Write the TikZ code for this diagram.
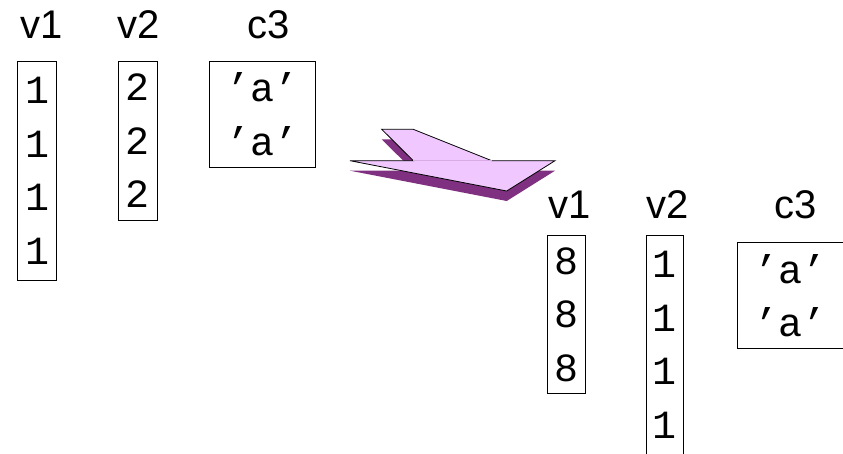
\documentclass[tikz,border=0pt]{standalone}
\usepackage{fontspec}
\setmainfont{Liberation Sans}
\newfontfamily\hdrfont{Liberation Sans}
\newfontfamily\cellfont{Liberation Mono}
\definecolor{arrowlight}{RGB}{240,200,255}
\definecolor{arrowdark}{RGB}{128,48,128}
\definecolor{arrowseam}{RGB}{215,170,230}
\begin{document}
\begin{tikzpicture}[x=1pt,y=-1pt]
\tikzset{
  hdr/.style={inner sep=0pt, anchor=base, font=\hdrfont\fontsize{40}{40}\selectfont},
  colbox/.style={draw=black, line width=0.8pt, inner sep=0pt, anchor=north west,
    align=center, font=\cellfont\fontsize{40}{53.5}\selectfont},
}
\useasboundingbox (0,0) rectangle (843,453);
% left table
\node[hdr] (lh1) at (42,38.3) {v1};
\node[hdr] (lh2) at (138.2,38.3) {v2};
\node[hdr] (lh3) at (269,38.3) {c3};
\node[colbox, minimum width=38.7, minimum height=219] (lc1) at (17.3,61) {1\\1\\1\\1};
\node[colbox, minimum width=38.4, minimum height=159] (lc2) at (118.3,61) {2\\2\\2};
\node[colbox, minimum width=106, minimum height=105.7] (lc3) at (209.3,61) {’a’\\’a’};
% arrow
\fill[arrowdark, yshift=-10pt] (381.7,129.3) -- (413.3,129.3) -- (491.7,160.7) -- (555,160.7)
  -- (506.7,191) -- (350,160.7) -- (413.3,160.7) -- cycle;
\filldraw[fill=arrowlight, draw=black, line width=0.8pt, line join=miter]
  (381.7,129.3) -- (413.3,129.3) -- (491.7,160.7) -- (555,160.7)
  -- (506.7,191) -- (350,160.7) -- (413.3,160.7) -- cycle;
\draw[arrowseam, line width=0.6pt] (413.3,160.7) -- (491.7,160.7);
% right table
\node[hdr] (rh1) at (569.3,218.3) {v1};
\node[hdr] (rh2) at (667.4,218.3) {v2};
\node[hdr] (rh3) at (795.5,218.3) {c3};
\node[colbox, minimum width=38, minimum height=158.3] (rc1) at (547.3,235) {8\\8\\8};
\node[colbox, minimum width=37.6, minimum height=219] (rc2) at (645.7,235) {1\\1\\1\\1};
\node[colbox, minimum width=106, minimum height=106] (rc3) at (737.3,242.3) {’a’\\’a’};
\end{tikzpicture}
\end{document}
